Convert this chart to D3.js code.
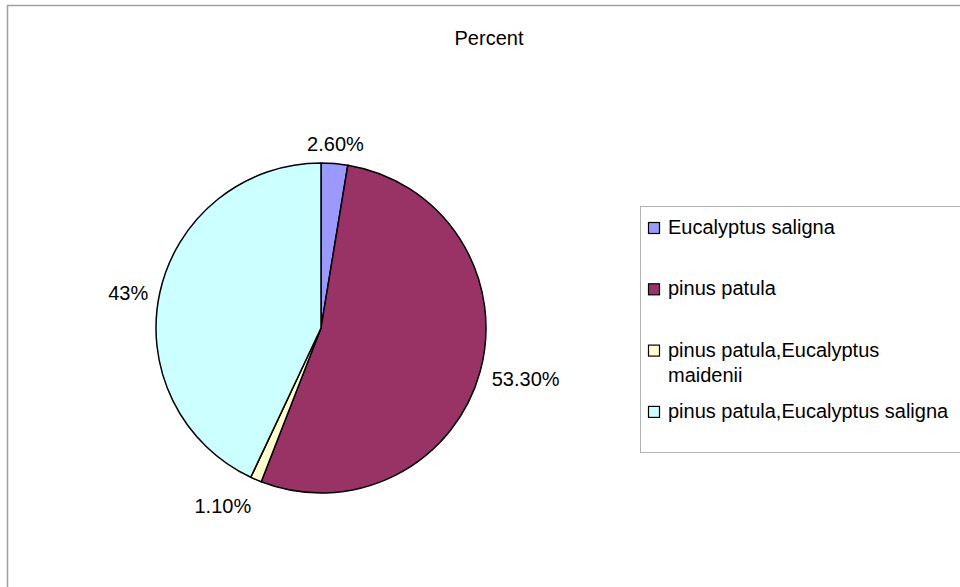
<!DOCTYPE html>
<html>
<head>
<meta charset="utf-8">
<script src="https://cdn.jsdelivr.net/npm/d3@7/dist/d3.min.js"></script>
<style>
html,body{margin:0;padding:0;background:#fff;}
svg{display:block;font-family:"Liberation Sans",Arial,sans-serif;}
</style>
</head>
<body>
<svg id="chart" width="960" height="587"></svg>
<script>
const title = "Percent";
const categories = ["Eucalyptus saligna", "pinus patula", "pinus patula,Eucalyptus maidenii", "pinus patula,Eucalyptus saligna"];
const legendLines = [["Eucalyptus saligna"], ["pinus patula"], ["pinus patula,Eucalyptus", "maidenii"], ["pinus patula,Eucalyptus saligna"]];
const values = [2.6, 53.3, 1.1, 43];
const labels = ["2.60%", "53.30%", "1.10%", "43%"];
const colors = ["#9999ff", "#993366", "#ffffcc", "#ccffff"];

const svg = d3.select("#chart");
const W = 960, H = 587;

// outer chart border
svg.append("rect").attr("x", 7.5).attr("y", 5.5).attr("width", W + 10).attr("height", H + 10)
  .attr("fill", "none").attr("stroke", "#a0a0a0").attr("stroke-width", 1.5);

// title
svg.append("text").attr("x", 489).attr("y", 45).attr("text-anchor", "middle")
  .attr("font-size", 20).attr("fill", "#000").text(title);

const cx = 321, cy = 328, R = 165;
const pie = d3.pie().sort(null).value(d => d)(values);
const arc = d3.arc().innerRadius(0).outerRadius(R);

const g = svg.append("g").attr("transform", `translate(${cx},${cy})`);
g.selectAll("path").data(pie).join("path")
  .attr("d", arc)
  .attr("fill", (d, i) => colors[i])
  .attr("stroke", "#000").attr("stroke-width", 1.5).attr("stroke-linejoin", "round");

// labels: anchor point outside the pie, alignment chosen by angle sector
const fs = 20, ascent = 18.1, descent = 4.2, mid = 7;
const Rp = 177, labelDy = 4;
g.selectAll("text.lab").data(pie).join("text").attr("class", "lab")
  .attr("font-size", fs).attr("fill", "#000").text((d, i) => labels[i])
  .each(function(d) {
    const a = (d.startAngle + d.endAngle) / 2;
    const px = Math.sin(a) * Rp, py = labelDy - Math.cos(a) * Rp;
    let th = 90 - a * 180 / Math.PI; // math angle, ccw from 3 o'clock
    th = ((th % 360) + 360) % 360;
    const sector = Math.floor(((th + 22.5) % 360) / 45); // 0=R,1=RT,2=T,3=LT,4=L,5=LB,6=B,7=RB
    const anchor = [ "start","start","middle","end","end","end","middle","start" ][sector];
    const vshift = [ mid, -descent, -descent, -descent, mid, ascent, ascent, ascent ][sector];
    d3.select(this).attr("x", px).attr("y", py + vshift).attr("text-anchor", anchor);
  });

// legend
svg.append("rect").attr("x", 640.5).attr("y", 206.5).attr("width", 340).attr("height", 246)
  .attr("fill", "#fff").attr("stroke", "#b3b3b3").attr("stroke-width", 1);
const ly = d3.scaleLinear().domain([0, 1]).range([234, 295.3]);
const lg = svg.selectAll("g.leg").data(categories).join("g").attr("class", "leg")
  .attr("transform", (d, i) => `translate(0,${ly(i)})`);
lg.append("rect").attr("x", 648.5).attr("y", -11.5).attr("width", 11).attr("height", 11)
  .attr("fill", (d, i) => colors[i]).attr("stroke", "#000").attr("stroke-width", 1.2);
lg.append("text").attr("x", 668).attr("y", 0).attr("font-size", fs).attr("fill", "#000")
  .each(function(d, i) {
    d3.select(this).selectAll("tspan").data(legendLines[i]).join("tspan")
      .attr("x", 668).attr("dy", (t, j) => j === 0 ? 0 : 25).text(t => t);
  });
</script>
</body>
</html>
